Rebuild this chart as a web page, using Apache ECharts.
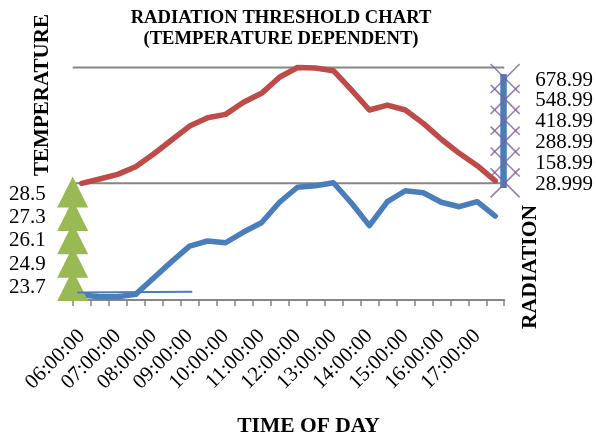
<!DOCTYPE html>
<html><head><meta charset="utf-8">
<style>html,body{margin:0;padding:0;background:#fff}#c{width:596px;height:441px}</style>
<script src="https://cdn.jsdelivr.net/npm/echarts@6/dist/echarts.min.js"></script>
</head><body><div id="c"></div>
<script>
const categories = ["06:00:00","06:30:00","07:00:00","07:30:00","08:00:00","08:30:00","09:00:00","09:30:00","10:00:00","10:30:00","11:00:00","11:30:00","12:00:00","12:30:00","13:00:00","13:30:00","14:00:00","14:30:00","15:00:00","15:30:00","16:00:00","16:30:00","17:00:00","17:30:00"];
const temperature = [23.32,23.23,23.23,23.35,24.19,25.03,25.83,26.09,26.00,26.55,27.03,28.08,28.85,28.93,29.08,28.04,26.88,28.11,28.67,28.57,28.08,27.85,28.11,27.37];
const radiation = [35,62,91,139,218,305,392,444,465,540,596,696,757,754,737,617,492,523,492,409,310,222,145,50];
const tempTicks = [23.7,24.9,26.1,27.3,28.5];
const radTicks = [28.999,158.99,288.99,418.99,548.99,678.99];
const gridLevels = [35,757];
const radBar = [6,716];
const thinLineX = [0.25,6.65];
const thinLineY = [23.44,23.48];
const serif = '"Liberation Serif","Times New Roman",serif';
const BLUE='#4a7ebb',RED='#be4b48',GREEN='#98b954',PURPLE='#7d60a0',GRAY='#868686';
const chart = echarts.init(document.getElementById('c'),null,{renderer:'canvas'});
const vtext=(t,x,y,s)=>({type:'text',x,y,rotation:Math.PI/2,style:{text:t,font:'bold '+s+'px '+serif,fill:'#000',align:'center',verticalAlign:'middle'}});
chart.setOption({
  animation:false,
  backgroundColor:'#fff',
  title:{text:'RADIATION THRESHOLD CHART\n(TEMPERATURE DEPENDENT)',left:276,top:2,textAlign:'center',
    textStyle:{fontFamily:serif,fontWeight:'bold',fontSize:18.6,lineHeight:21.5,color:'#000'}},
  graphic:[vtext('TEMPERATURE',43,95,21),vtext('RADIATION',530,267,21.5),
    {type:'text',x:308.5,y:426,style:{text:'TIME OF DAY',font:'bold 21.5px '+serif,fill:'#000',align:'center',verticalAlign:'middle'}}],
  grid:{left:72.7,right:90.3,top:67.5,bottom:141},
  xAxis:[
    {type:'category',data:categories,boundaryGap:true,
      axisLine:{onZero:false,lineStyle:{color:GRAY,width:2}},
      axisTick:{show:true,interval:0,length:6,lineStyle:{color:GRAY,width:1.5}},
      axisLabel:{interval:1,rotate:45,margin:33,align:'right',verticalAlign:'middle',fontFamily:serif,fontSize:21,color:'#000',hideOverlap:false},
      splitLine:{show:false}},
    {type:'value',min:0,max:24,show:false,splitLine:{show:false}}
  ],
  yAxis:[
    {type:'value',min:23.06,max:35,axisLine:{show:false},axisTick:{show:false},splitLine:{show:false},
      axisLabel:{customValues:tempTicks,margin:27,fontFamily:serif,fontSize:21,color:'#000'}},
    {type:'value',min:-692,max:757,position:'right',axisLine:{show:false},axisTick:{show:false},splitLine:{show:false},
      axisLabel:{customValues:radTicks,margin:31,fontFamily:serif,fontSize:21,color:'#000'}}
  ],
  series:[
    {name:'gridTop',type:'line',xAxisIndex:1,yAxisIndex:1,silent:true,symbol:'none',clip:false,lineStyle:{color:GRAY,width:2},data:[[0,gridLevels[1]],[24,gridLevels[1]]]},
    {name:'gridMid',type:'line',xAxisIndex:1,yAxisIndex:1,silent:true,symbol:'none',clip:false,lineStyle:{color:GRAY,width:2},data:[[0,gridLevels[0]],[24,gridLevels[0]]]},
    {name:'Radiation axis bar',type:'line',xAxisIndex:1,yAxisIndex:1,symbol:'none',clip:false,lineStyle:{color:BLUE,width:6.5,cap:'butt'},data:radBar.map(v=>[23.96,v])},
    {name:'Radiation ticks',type:'scatter',xAxisIndex:1,yAxisIndex:1,clip:false,z:4,
      symbol:'path://M0,0L10,10M0,10L10,0',symbolSize:29,symbolOffset:[0,-1.5],
      itemStyle:{color:'none',borderColor:PURPLE,borderWidth:1.6},
      data:radTicks.map(v=>[24.05,v])},
    {name:'Temperature ticks',type:'scatter',xAxisIndex:1,yAxisIndex:0,clip:false,z:4,
      symbol:'triangle',symbolSize:[31,31],symbolOffset:[0,-2],
      itemStyle:{color:GREEN,opacity:1},
      data:tempTicks.map(v=>[0,v])},
    {name:'Temperature',type:'line',xAxisIndex:0,yAxisIndex:0,symbol:'none',clip:false,z:3,
      lineStyle:{color:BLUE,width:5.5,cap:'round',join:'round'},data:temperature},
    {name:'Radiation',type:'line',xAxisIndex:0,yAxisIndex:1,symbol:'none',clip:false,z:3,
      lineStyle:{color:RED,width:5.5,cap:'round',join:'round'},data:radiation},
    {name:'Trend',type:'line',xAxisIndex:1,yAxisIndex:0,symbol:'none',clip:false,z:5,
      lineStyle:{color:BLUE,width:2},data:thinLineX.map((x,i)=>[x,thinLineY[i]])}
  ]
});
</script></body></html>
